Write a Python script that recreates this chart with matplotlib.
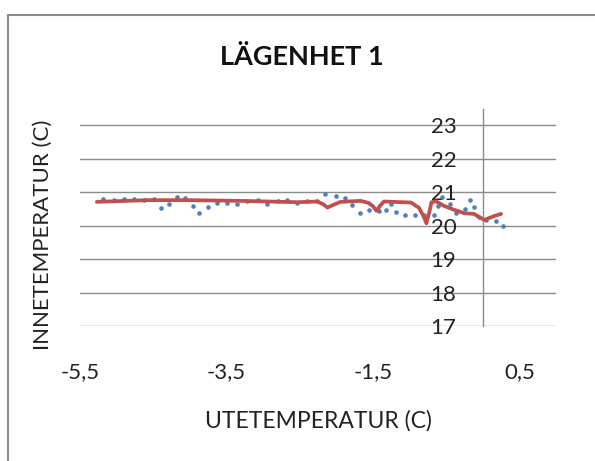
import matplotlib
matplotlib.use("Agg")
import matplotlib.pyplot as plt
from matplotlib.patches import Rectangle
from matplotlib.ticker import FuncFormatter

# outdoor temperature vs. indoor temperature, apartment 1
ute = [-5.19, -5.04, -4.90, -4.76, -4.62, -4.49, -4.40, -4.29, -4.18, -4.06,
       -3.96, -3.87, -3.75, -3.63, -3.49, -3.35, -3.22, -3.07, -2.94, -2.80,
       -2.67, -2.53, -2.40, -2.26, -2.15, -2.01, -1.88, -1.78, -1.68, -1.55,
       -1.42, -1.32, -1.25, -1.18, -1.06, -0.93, -0.80, -0.66, -0.61, -0.55,
       -0.45, -0.36, -0.24, -0.18, -0.12, -0.05, 0.05, 0.18, 0.28]
inne = [20.79, 20.78, 20.79, 20.80, 20.78, 20.79, 20.52, 20.64, 20.85, 20.83,
        20.59, 20.38, 20.55, 20.68, 20.67, 20.66, 20.74, 20.78, 20.66, 20.74,
        20.78, 20.68, 20.74, 20.75, 20.94, 20.89, 20.82, 20.61, 20.39, 20.47,
        20.43, 20.47, 20.65, 20.40, 20.31, 20.31, 20.32, 20.31, 20.59, 20.86,
        20.64, 20.39, 20.49, 20.78, 20.57, 20.27, 20.17, 20.15, 19.99]

# smoothed trend
trend_x = [-5.27, -4.59, -3.99, -3.31, -2.53, -2.26, -2.18, -2.12, -2.04, -1.94,
           -1.67, -1.56, -1.50, -1.45, -1.40, -1.35, -0.98, -0.87, -0.80, -0.77,
           -0.73, -0.70, -0.64, -0.53, -0.39, -0.25, -0.12, 0.02, 0.16, 0.25]
trend_y = [20.71, 20.76, 20.76, 20.74, 20.70, 20.72, 20.64, 20.54, 20.62, 20.71,
           20.74, 20.68, 20.58, 20.44, 20.60, 20.72, 20.69, 20.53, 20.24, 20.07,
           20.40, 20.70, 20.73, 20.59, 20.47, 20.37, 20.35, 20.17, 20.29, 20.35]

x_ticks = [-5.5, -3.5, -1.5, 0.5]
y_ticks = [17, 18, 19, 20, 21, 22, 23]

W, H = 595, 461
fig = plt.figure(figsize=(W / 100, H / 100), dpi=100)
plt.rcParams['font.family'] = ['Lato', 'DejaVu Sans']

# outer chart border
fig.patches.append(Rectangle((8 / W, -0.1), 1.2, (H - 15) / H + 0.1,
                             transform=fig.transFigure, fill=False,
                             edgecolor='#8c8c8c', linewidth=1.5))

ax = fig.add_axes([80 / W, (H - 326) / H, (556 - 80) / W, (326 - 108.5) / H])
ax.set_xlim(-5.5, 1.0)
ax.set_ylim(17, 23.5)

grid_c = '#8c8c8c'
for v in y_ticks:
    ax.axhline(v, color=grid_c, linewidth=1, zorder=1)

for s in ['top', 'right', 'bottom']:
    ax.spines[s].set_visible(False)
ax.spines['left'].set_position(('data', 0))
ax.spines['left'].set_color(grid_c)
ax.spines['left'].set_linewidth(1)

comma = FuncFormatter(lambda v, p: f"{v:g}".replace('.', ','))
ax.set_xticks(x_ticks)
ax.set_yticks(y_ticks)
ax.xaxis.set_major_formatter(comma)
ax.tick_params(axis='x', length=0, pad=26, labelsize=16, labelcolor='#222222')
ax.tick_params(axis='y', length=0, pad=19, labelsize=16, labelcolor='#222222')

ax.scatter(ute, inne, s=11, color='#4F81BD', zorder=3, linewidths=0)
ax.plot(trend_x, trend_y, color='#C0504D', linewidth=2.7, zorder=4,
        solid_capstyle='round', solid_joinstyle='round')

fig.text(302 / W, 1 - 57 / H, 'LÄGENHET 1', ha='center', va='center',
         fontsize=19.5, fontweight='bold', color='#111111')
fig.text(318 / W, 1 - 421 / H, 'UTETEMPERATUR (C)', ha='center', va='center',
         fontsize=16.5, color='#222222')
fig.text(43 / W, 1 - 235 / H, 'INNETEMPERATUR (C)', ha='center', va='center',
         rotation=90, fontsize=16, color='#222222')

fig.savefig('out.png', dpi=100)
